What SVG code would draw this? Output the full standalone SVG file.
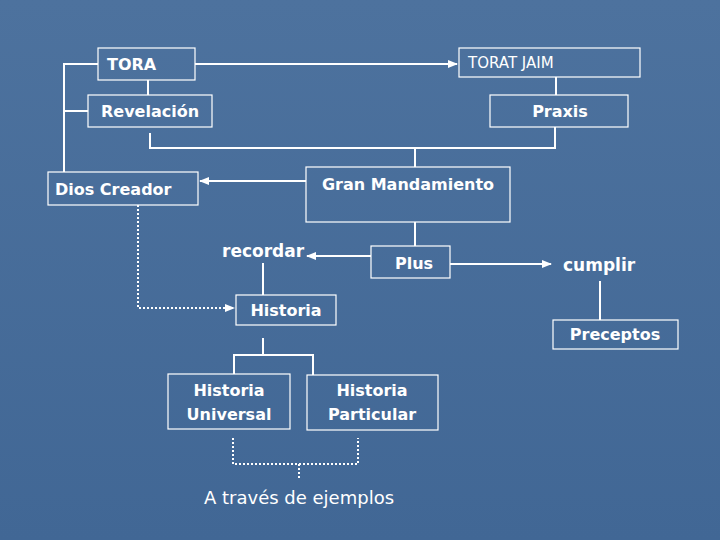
<svg xmlns="http://www.w3.org/2000/svg" width="720" height="540" viewBox="0 0 720 540">
<defs>
<linearGradient id="bg" x1="0" y1="0" x2="0" y2="1"><stop offset="0" stop-color="#4d729e"/><stop offset="1" stop-color="#416795"/></linearGradient>
<marker id="ar" viewBox="0 0 10 10" refX="9" refY="5" markerWidth="5" markerHeight="5" orient="auto"><path d="M0,1 L10,5 L0,9 z" fill="#fff"/></marker>
</defs>
<style>
.b{fill:none;stroke:#fff;stroke-width:1.2}
.t{font-family:"DejaVu Sans",sans-serif;font-weight:bold;font-size:16px;fill:#fff}
.m{text-anchor:middle}
.l{fill:none;stroke:#fff;stroke-width:2}
.d{fill:none;stroke:#fff;stroke-width:2;stroke-dasharray:2,2}
</style>
<rect width="720" height="540" fill="url(#bg)"/>
<g id="connectors">
<path class="l" d="M195,64 H457" marker-end="url(#ar)"/>
<path class="l" d="M148,80 V95 M556,77 V95"/>
<path class="l" d="M98,64 H64 V172 M88,111 H64"/>
<path class="l" d="M150,133 V148 H555 V127 M415,148 V167"/>
<path class="l" d="M306,181 H200" marker-end="url(#ar)"/>
<path class="l" d="M415,222 V246"/>
<path class="l" d="M371,256 H307" marker-end="url(#ar)"/>
<path class="l" d="M450,264 H551" marker-end="url(#ar)"/>
<path class="l" d="M600,281 V320"/>
<path class="l" d="M263,263 V295"/>
<path class="d" d="M138,205 V308 H234" marker-end="url(#ar)"/>
<path class="l" d="M263,338 V355 M234,374 V355 H313 V375"/>
<path class="d" d="M233,438 V464 H358 V438 M299,464 V480"/>
</g>
<g id="tora"><rect class="b" x="98" y="48" width="97" height="32"/><text class="t" x="107" y="70">TORA</text></g>
<g id="torat"><rect class="b" x="459" y="48" width="181" height="29"/><text class="t" x="468" y="68" style="font-weight:normal;font-size:15px">TORAT JAIM</text></g>
<g id="revelacion"><rect class="b" x="88" y="95" width="124" height="32"/><text class="t m" x="150" y="117">Revelación</text></g>
<g id="praxis"><rect class="b" x="490" y="95" width="138" height="32"/><text class="t m" x="560" y="117">Praxis</text></g>
<g id="dios"><rect class="b" x="48" y="172" width="150" height="33"/><text class="t" x="55" y="195">Dios Creador</text></g>
<g id="gran"><rect class="b" x="306" y="167" width="204" height="55"/><text class="t m" x="408" y="190">Gran Mandamiento</text></g>
<g id="recordar"><text class="t" x="222" y="257" style="font-size:17px;font-weight:600">recordar</text></g>
<g id="plus"><rect class="b" x="371" y="246" width="79" height="32"/><text class="t m" x="414" y="269">Plus</text></g>
<g id="cumplir"><text class="t" x="563" y="271" style="font-size:17px;font-weight:600">cumplir</text></g>
<g id="preceptos"><rect class="b" x="553" y="320" width="125" height="29"/><text class="t m" x="615" y="340">Preceptos</text></g>
<g id="historia"><rect class="b" x="236" y="295" width="100" height="30"/><text class="t m" x="286" y="316">Historia</text></g>
<g id="universal"><rect class="b" x="168" y="374" width="122" height="55"/><text class="t m" x="229" y="396">Historia</text><text class="t m" x="229" y="420">Universal</text></g>
<g id="particular"><rect class="b" x="307" y="375" width="131" height="55"/><text class="t m" x="372" y="396">Historia</text><text class="t m" x="372" y="420">Particular</text></g>
<g id="ejemplos"><text x="299" y="504" text-anchor="middle" style="font-family:'DejaVu Sans',sans-serif;font-weight:normal;font-size:18px;fill:#fff">A través de ejemplos</text></g>
</svg>
